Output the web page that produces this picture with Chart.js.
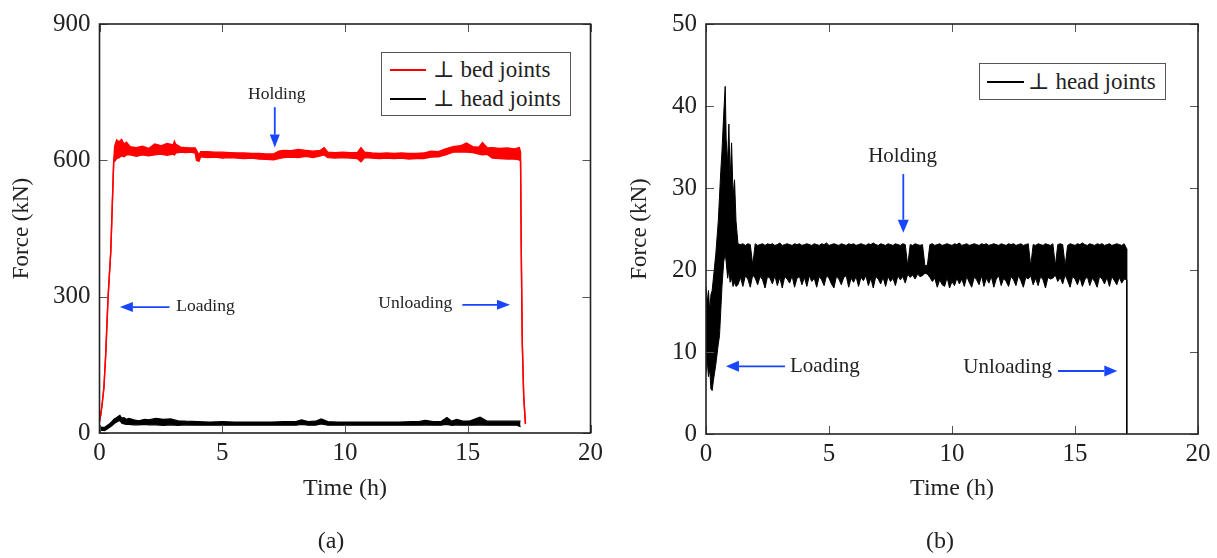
<!DOCTYPE html>
<html><head><meta charset="utf-8">
<script src="https://cdn.jsdelivr.net/npm/chart.js@4.4.1/dist/chart.umd.min.js"></script>
<style>
html,body{margin:0;padding:0;background:#fff}
#wrap{position:relative;width:1217px;height:558px;overflow:hidden;font-family:"Liberation Serif","DejaVu Serif",serif;color:#222;background:#fff}
canvas{position:absolute;top:0}
.legend{position:absolute;border:1px solid #555;background:#fff;box-sizing:border-box}
.item{position:absolute;white-space:nowrap;font-size:23px;line-height:24px;height:24px}
.swatch{position:absolute;height:2px}
.cap{position:absolute;font-size:24px;line-height:1;transform:translate(-50%,-50%)}
</style></head><body>
<div id="wrap">
<canvas id="ca" width="608" height="558" style="left:0"></canvas>
<canvas id="cb" width="609" height="558" style="left:608px"></canvas>
<div id="legA" class="legend" style="left:381px;top:52px;width:190px;height:64px"></div>
<div id="legB" class="legend" style="left:979px;top:63px;width:187px;height:37px"></div>
<div class="cap" style="left:331px;top:540px">(a)</div>
<div class="cap" style="left:940px;top:540px">(b)</div>
</div>
<script>
// ---------- Panel (a): ⊥ bed joints (red), envelope of the noisy record ----------
const bedTime = [
  0, 0.05, 0.1, 0.18, 0.25, 0.35, 0.46, 0.52, 0.58,
  0.62, 0.7, 0.8, 0.9, 1.0, 1.1, 1.25, 1.5, 1.75, 2.0,
  2.25, 2.5, 2.75, 3.0, 3.05, 3.1, 3.3, 3.5, 3.7, 3.9,
  3.95, 4.05, 4.12, 4.4, 4.7, 5.0, 5.3, 5.6, 5.9, 6.2,
  6.5, 6.8, 7.1, 7.3, 7.5, 7.8, 8.1, 8.4, 8.7, 9.0,
  9.15, 9.3, 9.6, 9.9, 10.2, 10.5, 10.65, 10.8, 11.1, 11.4,
  11.7, 12.0, 12.3, 12.6, 12.9, 13.2, 13.5, 13.8, 14.1, 14.4,
  14.7, 14.95, 15.2, 15.45, 15.6, 15.8, 16.0, 16.3, 16.6, 16.9,
  17.1, 17.15, 17.18, 17.22, 17.28, 17.35];
const bedLow = [
  25, 40, 60, 100, 170, 300, 400, 500, 600,
  598, 604, 606, 610, 608, 612, 612, 609, 612, 610,
  612, 614, 611, 614, 612, 616, 618, 617, 618, 616,
  600, 598, 608, 606, 607, 605, 606, 605, 604, 605,
  603, 602, 601, 604, 606, 607, 606, 609, 606, 610,
  612, 606, 605, 606, 605, 604, 597, 606, 605, 604,
  605, 604, 605, 603, 604, 604, 607, 608, 612, 618,
  619, 618, 617, 614, 612, 613, 605, 604, 603, 603,
  601, 598, 400, 200, 80, 20];
const bedHigh = [
  25, 40, 60, 100, 170, 300, 400, 500, 600,
  632, 645, 641, 646, 636, 640, 630, 628, 631, 626,
  636, 632, 637, 634, 642, 636, 629, 628, 627, 627,
  622, 612, 619, 619, 618, 618, 617, 616, 616, 615,
  615, 614, 614, 620, 622, 621, 624, 622, 620, 622,
  628, 618, 617, 618, 617, 617, 628, 618, 616, 615,
  616, 615, 616, 615, 615, 616, 620, 619, 625, 630,
  632, 638, 630, 629, 639, 627, 628, 626, 627, 625,
  628, 618, 400, 200, 80, 20];

// ---------- Panel (a): ⊥ head joints (black) ----------
const headATime = [
  0, 0.1, 0.2, 0.3, 0.4, 0.5, 0.6, 0.7, 0.83, 0.9,
  1.0, 1.1, 1.2, 1.4, 1.6, 1.84, 2.0, 2.3, 2.6, 2.9,
  3.2, 3.5, 4.0, 4.5, 5.0, 5.5, 6.0, 6.5, 7.0, 7.5,
  8.0, 8.23, 8.5, 8.8, 9.03, 9.3, 9.7, 10.2, 10.7, 11.2,
  11.7, 12.2, 12.7, 13.0, 13.27, 13.6, 13.9, 14.15, 14.35, 14.55,
  14.8, 15.1, 15.5, 15.8, 16.2, 16.6, 17.0, 17.15];
const headALow = [
  5, 6, 5, 8, 12, 16, 21, 24, 28, 22,
  20, 19, 19, 18, 18, 19, 18, 18, 17, 18,
  17, 18, 17, 17, 17, 17, 17, 17, 17, 17,
  17, 19, 17, 17, 20, 17, 17, 17, 17, 17,
  17, 17, 17, 17, 18, 17, 17, 19, 17, 18,
  17, 17, 18, 17, 17, 17, 17, 14];
const headAHigh = [
  12, 13, 12, 16, 20, 25, 31, 34, 39, 33,
  34, 30, 32, 29, 27, 30, 29, 32, 30, 31,
  27, 26, 25, 24, 25, 24, 24, 24, 24, 25,
  25, 29, 25, 26, 31, 25, 24, 24, 24, 24,
  24, 24, 25, 25, 28, 25, 25, 34, 26, 30,
  26, 27, 35, 26, 26, 26, 26, 26];

// ---------- Panel (b): ⊥ head joints, envelope ----------
const headBTime = [
  0, 0.05, 0.1, 0.15, 0.2, 0.25, 0.3, 0.4, 0.5, 0.55, 0.6, 0.65, 0.72, 0.78, 0.82, 0.88, 0.93, 0.98, 1.04, 1.1, 1.16, 1.22, 1.3,
  1.4, 1.5, 1.6, 1.7, 1.8, 1.9, 2.0, 2.1, 2.2, 2.3,
  2.4, 2.5, 2.6, 2.7, 2.8, 2.9, 3.0, 3.1, 3.2, 3.3,
  3.4, 3.5, 3.6, 3.7, 3.8, 3.9, 4.0, 4.1, 4.2, 4.3,
  4.4, 4.5, 4.6, 4.7, 4.8, 4.9, 5.0, 5.1, 5.2, 5.3,
  5.4, 5.5, 5.6, 5.7, 5.8, 5.9, 6.0, 6.1, 6.2, 6.3,
  6.4, 6.5, 6.6, 6.7, 6.8, 6.9, 7.0, 7.1, 7.2, 7.3,
  7.4, 7.5, 7.6, 7.7, 7.8, 7.9, 8.0, 8.1, 8.2, 8.3,
  8.4, 8.5, 8.6, 8.7, 8.8, 8.9, 9.0, 9.1, 9.2, 9.3,
  9.4, 9.5, 9.6, 9.7, 9.8, 9.9, 10.0, 10.1, 10.2, 10.3,
  10.4, 10.5, 10.6, 10.7, 10.8, 10.9, 11.0, 11.1, 11.2, 11.3,
  11.4, 11.5, 11.6, 11.7, 11.8, 11.9, 12.0, 12.1, 12.2, 12.3,
  12.4, 12.5, 12.6, 12.7, 12.8, 12.9, 13.0, 13.1, 13.2, 13.3,
  13.4, 13.5, 13.6, 13.7, 13.8, 13.9, 14.0, 14.1, 14.2, 14.3,
  14.4, 14.5, 14.6, 14.7, 14.8, 14.9, 15.0, 15.1, 15.2, 15.3,
  15.4, 15.5, 15.6, 15.7, 15.8, 15.9, 16.0, 16.1, 16.2, 16.3,
  16.4, 16.5, 16.6, 16.7, 16.8, 16.9, 17.0,
  17.1, 17.1];
const headBHigh = [
  18, 16, 17.5, 15, 17, 17.5, 19, 22, 26, 29, 32, 34.5, 39, 42.4, 36, 33, 37.8, 31, 35.5, 29, 31, 26, 23.2,
  23.1, 23.2, 23.0, 23.2, 23.1, 20.6, 23.2, 23.0, 23.1, 23.2,
  23.0, 23.2, 23.1, 23.2, 23.0, 23.1, 23.3, 23.0, 23.1, 23.2,
  23.1, 23.0, 23.2, 23.1, 23.2, 23.0, 23.1, 23.2, 23.1, 23.0,
  23.2, 23.1, 23.0, 23.2, 23.1, 23.3, 23.0, 23.1, 23.2, 23.1,
  23.0, 23.2, 23.1, 23.0, 23.2, 23.1, 23.2, 23.0, 23.1, 23.2,
  23.1, 23.0, 23.2, 23.1, 23.3, 23.1, 23.0, 23.2, 23.1, 23.0,
  23.2, 23.1, 23.0, 23.2, 23.1, 23.0, 23.2, 23.1, 20.5, 23.1,
  23.0, 23.2, 23.1, 23.0, 23.1, 20.5, 20.6, 23.1, 23.2, 23.0,
  23.1, 23.2, 23.0, 23.1, 23.2, 23.1, 23.0, 23.2, 23.1, 23.3,
  23.0, 23.1, 23.2, 23.0, 23.1, 23.2, 23.1, 23.0, 23.2, 23.1,
  23.2, 23.0, 23.1, 23.2, 23.1, 23.0, 23.2, 23.1, 23.0, 23.2,
  23.1, 23.2, 23.0, 23.1, 23.2, 23.0, 23.1, 23.2, 20.5, 23.1,
  23.0, 23.2, 23.1, 23.0, 23.2, 23.1, 23.0, 23.2, 20.5, 23.1,
  23.2, 23.1, 20.5, 23.0, 23.2, 23.1, 23.0, 23.2, 23.1, 23.3,
  23.1, 23.0, 23.2, 23.1, 23.0, 23.2, 23.1, 23.2, 23.0, 23.1,
  23.2, 23.0, 23.1, 23.2, 23.1, 23.0, 23.2,
  22.6, 0];
const headBLow = [
  7.5, 9, 7, 8, 5.5, 5.3, 6.5, 8.5, 11, 12, 15, 18, 21, 22, 21, 19, 20, 18.5, 19, 18, 18.5, 18, 18.2,
  19.1, 18.0, 19.3, 18.9, 17.9, 19.4, 19.0, 18.2, 19.2, 18.8,
  17.8, 19.2, 19.0, 18.3, 19.3, 18.1, 19.1, 17.8, 19.2, 18.9,
  18.4, 19.3, 17.9, 19.0, 19.2, 18.2, 19.1, 18.0, 19.3, 18.6,
  19.0, 17.9, 19.2, 18.8, 18.1, 19.3, 19.0, 18.3, 17.8, 19.2,
  18.9, 18.2, 19.1, 19.3, 17.9, 19.0, 18.5, 19.2, 18.0, 19.1,
  18.7, 19.3, 18.1, 19.0, 17.8, 19.2, 18.9, 18.3, 19.1, 18.0,
  19.2, 18.6, 19.0, 18.1, 19.3, 18.8, 19.2, 18.4, 19.5, 19.1,
  19.4, 18.9, 19.5, 19.2, 19.3, 19.6, 19.5, 19.1, 18.6, 19.0,
  17.9, 18.8, 18.2, 18.0, 19.1, 17.8, 18.6, 18.1, 19.0, 18.3,
  18.9, 18.0, 19.2, 18.5, 17.9, 19.1, 18.8, 18.2, 19.3, 18.0,
  19.0, 18.4, 19.2, 17.9, 18.9, 19.3, 18.1, 19.0, 18.6, 18.0,
  19.2, 18.8, 18.1, 19.3, 18.7, 17.9, 19.1, 18.9, 19.3, 18.2,
  19.0, 18.1, 19.2, 18.8, 17.8, 19.1, 18.9, 19.0, 19.4, 18.6,
  19.1, 18.3, 19.4, 18.7, 17.9, 19.2, 18.9, 18.2, 19.1, 18.0,
  18.8, 19.2, 18.1, 19.0, 18.6, 17.9, 19.2, 18.9, 18.3, 19.1,
  18.0, 19.2, 18.7, 18.2, 19.1, 18.4, 18.9,
  18.8, 0];

// ---------- Axis ticks ----------
const timeTicks = [0, 5, 10, 15, 20];
const forceTicksA = [0, 300, 600, 900];
const forceTicksB = [0, 10, 20, 30, 40, 50];

// ---------- Annotations (data coordinates) ----------
const annotA = {
  size: 17.5, head: [13, 5],
  notes: [
    {text: 'Holding', t: 7.22, f: 746, align: 'center'},
    {text: 'Loading', t: 3.13, f: 279, align: 'left'},
    {text: 'Unloading', t: 12.86, f: 285, align: 'center'}
  ],
  arrows: [
    {t1: 7.14, f1: 717, t2: 7.14, f2: 628},
    {t1: 2.85, f1: 277, t2: 0.83, f2: 277},
    {t1: 14.78, f1: 282, t2: 16.72, f2: 282}
  ]
};
const annotB = {
  size: 21, head: [13, 5.5],
  notes: [
    {text: 'Holding', t: 7.99, f: 33.9, align: 'center'},
    {text: 'Loading', t: 3.41, f: 8.25, align: 'left'},
    {text: 'Unloading', t: 12.26, f: 8.1, align: 'center'}
  ],
  arrows: [
    {t1: 8.02, f1: 31.7, t2: 8.02, f2: 24.55},
    {t1: 3.21, f1: 8.25, t2: 0.81, f2: 8.25},
    {t1: 14.31, f1: 7.68, t2: 16.72, f2: 7.68}
  ]
};

const FONT = '"Liberation Serif","DejaVu Serif",serif';
Chart.defaults.font.family = FONT;
Chart.defaults.color = '#222';

const pts = (xs, ys) => xs.map((t, i) => ({x: t, y: ys[i]}));

const frameTicks = {
  id: 'frameTicks',
  afterDraw(chart, args, o) {
    const {ctx, chartArea: {left, right, top, bottom}, scales: {x, y}} = chart;
    ctx.save();
    ctx.strokeStyle = '#555'; ctx.lineWidth = 1;
    const L = o.len;
    ctx.beginPath();
    x.ticks.forEach(tk => {
      const px = Math.round(x.getPixelForValue(tk.value)) + 0.5;
      ctx.moveTo(px, bottom); ctx.lineTo(px, bottom - L);
      ctx.moveTo(px, top); ctx.lineTo(px, top + L);
    });
    y.ticks.forEach(tk => {
      const py = Math.round(y.getPixelForValue(tk.value)) + 0.5;
      ctx.moveTo(left, py); ctx.lineTo(left + L, py);
      ctx.moveTo(right, py); ctx.lineTo(right - L, py);
    });
    ctx.stroke();
    ctx.strokeStyle = '#222'; ctx.lineWidth = 1.6;
    ctx.strokeRect(left, top, right - left, bottom - top);
    const a = o.ann;
    ctx.fillStyle = '#222';
    ctx.font = a.size + 'px ' + FONT;
    ctx.textBaseline = 'middle';
    a.notes.forEach(n => {
      ctx.textAlign = n.align;
      ctx.fillText(n.text, x.getPixelForValue(n.t), y.getPixelForValue(n.f));
    });
    ctx.strokeStyle = '#1846ff'; ctx.fillStyle = '#1846ff'; ctx.lineWidth = 1.8;
    a.arrows.forEach(ar => {
      const x1 = x.getPixelForValue(ar.t1), y1 = y.getPixelForValue(ar.f1);
      const x2 = x.getPixelForValue(ar.t2), y2 = y.getPixelForValue(ar.f2);
      const ang = Math.atan2(y2 - y1, x2 - x1);
      const hl = a.head[0], hw = a.head[1];
      const bx = x2 - hl * Math.cos(ang), by = y2 - hl * Math.sin(ang);
      ctx.beginPath(); ctx.moveTo(x1, y1); ctx.lineTo(bx, by); ctx.stroke();
      ctx.beginPath();
      ctx.moveTo(x2, y2);
      ctx.lineTo(bx + hw * Math.sin(ang), by - hw * Math.cos(ang));
      ctx.lineTo(bx - hw * Math.sin(ang), by + hw * Math.cos(ang));
      ctx.closePath(); ctx.fill();
    });
    ctx.restore();
  }
};

function band(label, xs, hi, lo, color, bw, showInLegend) {
  return [
    {label: label, data: pts(xs, hi), borderColor: color, backgroundColor: color, borderWidth: bw,
     pointRadius: 0, tension: 0, fill: false, legend: showInLegend},
    {label: label + ' (low)', data: pts(xs, lo), borderColor: color, backgroundColor: color, borderWidth: bw,
     pointRadius: 0, tension: 0, fill: '-1', legend: false}
  ];
}

function makeOptions(pad, yw, xh, yTicks, yTitlePad, ann) {
  return {
    responsive: false, animation: false, devicePixelRatio: 1,
    layout: {padding: pad},
    plugins: {legend: {display: false}, tooltip: {enabled: false}, frameTicks: {len: 8, ann: ann}},
    scales: {
      x: {
        type: 'linear', min: timeTicks[0], max: timeTicks[timeTicks.length - 1],
        afterBuildTicks(s) { s.ticks = timeTicks.map(v => ({value: v})); },
        ticks: {font: {size: 25}, padding: 5, maxRotation: 0, autoSkip: false, color: '#222'},
        grid: {display: false, drawTicks: false}, border: {display: false},
        title: {display: true, text: 'Time (h)', font: {size: 24}, color: '#222', padding: {top: 0, bottom: 54.6}},
        afterFit(s) { s.height = xh; }
      },
      y: {
        type: 'linear', min: yTicks[0], max: yTicks[yTicks.length - 1],
        afterBuildTicks(s) { s.ticks = yTicks.map(v => ({value: v})); },
        ticks: {font: {size: 25}, padding: 9, autoSkip: false, color: '#222'},
        grid: {display: false, drawTicks: false}, border: {display: false},
        title: {display: true, text: 'Force (kN)', font: {size: 23}, color: '#222', padding: {top: yTitlePad, bottom: 0}},
        afterFit(s) { s.width = yw; }
      }
    }
  };
}

const chartA = new Chart(document.getElementById('ca'), {
  type: 'line',
  data: {datasets: [
    ...band('⊥ bed joints', bedTime, bedHigh, bedLow, '#ff0000', 1.4, true),
    ...band('⊥ head joints', headATime, headAHigh, headALow, '#000000', 1.2, true)
  ]},
  options: makeOptions({left: 0, right: 13, top: 20, bottom: 0}, 99.5, 125, forceTicksA, 8.2, annotA),
  plugins: [frameTicks]
});

const chartB = new Chart(document.getElementById('cb'), {
  type: 'line',
  data: {datasets: [
    ...band('⊥ head joints', headBTime, headBHigh, headBLow, '#000000', 1, true)
  ]},
  options: makeOptions({left: 0, right: 19, top: 22, bottom: 0}, 98, 124, forceTicksB, 18.2, annotB),
  plugins: [frameTicks]
});

function buildLegend(el, chart, rows, sw, txt) {
  const items = chart.data.datasets.filter(d => d.legend);
  items.forEach((d, i) => {
    const s = document.createElement('div');
    s.className = 'swatch';
    s.style.left = sw[0] + 'px'; s.style.width = sw[1] + 'px';
    s.style.top = (rows[i] - 1) + 'px'; s.style.background = d.borderColor;
    el.appendChild(s);
    const t = document.createElement('div');
    t.className = 'item';
    t.style.left = txt + 'px'; t.style.top = (rows[i] - 12) + 'px';
    t.textContent = d.label;
    el.appendChild(t);
  });
}
buildLegend(document.getElementById('legA'), chartA, [17, 45.5], [8, 36], 51);
buildLegend(document.getElementById('legB'), chartB, [18], [7, 37], 48);
</script>
</body></html>
